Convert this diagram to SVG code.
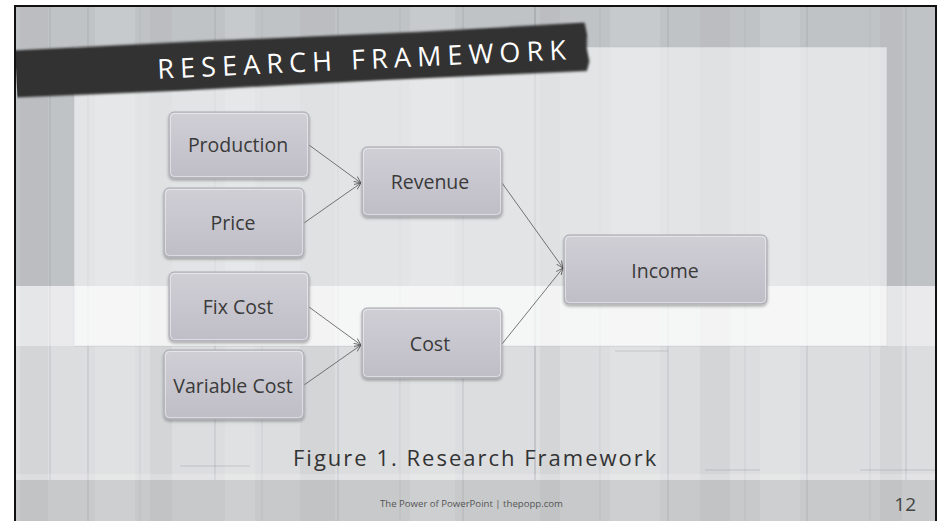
<svg xmlns="http://www.w3.org/2000/svg" width="943" height="521" viewBox="0 0 943 521">
<style>
.node-text{font-family:"Open Sans","Noto Sans","DejaVu Sans",sans-serif;font-size:19.5px;fill:#3a3a3a;text-anchor:middle}
.plank{stroke:#6f7276;stroke-width:1;opacity:0.25}
.plank2{stroke:#8a8d90;stroke-width:1;opacity:0.18}
.streak{fill:#ffffff;opacity:0.12}
.streakd{fill:#7a7d80;opacity:0.08}
.conn{stroke:#555;stroke-width:0.8;fill:none;marker-end:url(#arrow)}
.box{fill:url(#nodeGrad);stroke:#aaa9b2;stroke-width:1;filter:url(#shadow)}
.hl{fill:none;stroke:#ffffff;stroke-opacity:0.45;stroke-width:1}
</style>
<defs>
<linearGradient id="nodeGrad" x1="0" y1="0" x2="0" y2="1">
<stop offset="0" stop-color="#d0cfd6"/>
<stop offset="1" stop-color="#bfbec7"/>
</linearGradient>
<filter id="shadow" x="-10%" y="-10%" width="120%" height="130%">
<feDropShadow dx="0" dy="2" stdDeviation="1.4" flood-color="#000" flood-opacity="0.3"/>
</filter>
<filter id="soft" x="-5%" y="-20%" width="110%" height="140%">
<feGaussianBlur stdDeviation="0.8"/>
</filter>
<marker id="arrow" viewBox="0 0 8 8" refX="8" refY="4" markerWidth="7" markerHeight="7" markerUnits="userSpaceOnUse" orient="auto">
<path d="M0,0.5 L8,4 L0,7.5" fill="none" stroke="#555" stroke-width="0.9"/>
</marker>
<clipPath id="slide"><rect x="16" y="7" width="919" height="514"/></clipPath>
</defs>

<rect x="0" y="0" width="943" height="521" fill="#ffffff"/>

<g id="background" clip-path="url(#slide)">
<rect x="16" y="7" width="919" height="514" fill="#c0c3c6"/>
<rect x="16" y="286" width="919" height="194" fill="#dcdddf"/>
<rect x="16" y="480" width="919" height="41" fill="#c7c9cb"/>
<g>
<rect class="streakd" x="20" y="7" width="28" height="514"/>
<rect class="streak" x="95" y="7" width="40" height="514"/>
<rect class="streakd" x="150" y="7" width="22" height="514"/>
<rect class="streak" x="225" y="7" width="30" height="514"/>
<rect class="streakd" x="300" y="7" width="35" height="514"/>
<rect class="streak" x="410" y="7" width="45" height="514"/>
<rect class="streakd" x="540" y="7" width="20" height="514"/>
<rect class="streak" x="610" y="7" width="50" height="514"/>
<rect class="streakd" x="700" y="7" width="30" height="514"/>
<rect class="streak" x="760" y="7" width="40" height="514"/>
<rect class="streakd" x="880" y="7" width="22" height="514"/>
<line class="plank" x1="50" y1="7" x2="50" y2="480"/>
<line class="plank" x1="88" y1="7" x2="88" y2="521"/>
<line class="plank2" x1="140" y1="7" x2="140" y2="521"/>
<line class="plank" x1="215" y1="7" x2="215" y2="480"/>
<line class="plank2" x1="262" y1="7" x2="262" y2="521"/>
<line class="plank" x1="338" y1="7" x2="338" y2="521"/>
<line class="plank2" x1="400" y1="7" x2="400" y2="521"/>
<line class="plank" x1="463" y1="7" x2="463" y2="521"/>
<line class="plank" x1="535" y1="7" x2="535" y2="480" style="opacity:0.45"/>
<line class="plank2" x1="600" y1="7" x2="600" y2="521"/>
<line class="plank" x1="668" y1="7" x2="668" y2="521"/>
<line class="plank2" x1="745" y1="7" x2="745" y2="521"/>
<line class="plank" x1="807" y1="7" x2="807" y2="521"/>
<line class="plank2" x1="870" y1="7" x2="870" y2="521"/>
<line class="plank" x1="906" y1="7" x2="906" y2="480"/>
<line class="plank" x1="615" y1="351" x2="668" y2="351"/>
<line class="plank" x1="705" y1="470" x2="760" y2="470"/>
<line class="plank" x1="860" y1="470" x2="935" y2="470"/>
<line class="plank" x1="180" y1="466" x2="250" y2="466"/>
</g>
<rect x="74" y="47" width="813" height="299" fill="#ffffff" fill-opacity="0.55" stroke="#b9bcc0" stroke-opacity="0.5"/>
<rect x="16" y="286" width="919" height="60" fill="#ffffff" fill-opacity="0.4"/>
<rect x="16" y="474" width="919" height="6" fill="#ffffff" fill-opacity="0.2"/>
</g>

<g id="title">
<g transform="rotate(-2.7 300 60)" clip-path="url(#slide)">
<path d="M0,37 L200,36.5 L420,37.5 L586,36 L588,48 L587,62 L589,75 L586,84.5 L380,84 L180,85 L0,84 Z" fill="#303030" filter="url(#soft)"/>
<text x="157" y="72" font-family="'Open Sans','Noto Sans','DejaVu Sans',sans-serif" font-size="27" letter-spacing="6.1" fill="#ffffff">RESEARCH FRAMEWORK</text>
</g>
</g>

<g id="connectors">
<line class="conn" x1="309" y1="145" x2="361" y2="183"/>
<line class="conn" x1="304" y1="223" x2="361" y2="183"/>
<line class="conn" x1="502" y1="183" x2="563" y2="268"/>
<line class="conn" x1="502" y1="344" x2="563" y2="268"/>
<line class="conn" x1="309" y1="307" x2="361" y2="345"/>
<line class="conn" x1="304" y1="385" x2="361" y2="345"/>
</g>

<g id="node-production">
<rect class="box" x="169" y="112" width="140" height="66" rx="5"/>
<rect class="hl" x="170.5" y="113.5" width="137" height="63" rx="4"/>
<text class="node-text" x="238" y="152">Production</text>
</g>
<g id="node-price">
<rect class="box" x="164" y="188" width="140" height="69" rx="5"/>
<rect class="hl" x="165.5" y="189.5" width="137" height="66" rx="4"/>
<text class="node-text" x="233" y="230">Price</text>
</g>
<g id="node-fixcost">
<rect class="box" x="169" y="272" width="140" height="69" rx="5"/>
<rect class="hl" x="170.5" y="273.5" width="137" height="66" rx="4"/>
<text class="node-text" x="238" y="314">Fix Cost</text>
</g>
<g id="node-variablecost">
<rect class="box" x="164" y="350" width="140" height="69" rx="5"/>
<rect class="hl" x="165.5" y="351.5" width="137" height="66" rx="4"/>
<text class="node-text" x="233" y="393">Variable Cost</text>
</g>
<g id="node-revenue">
<rect class="box" x="362" y="147" width="140" height="69" rx="5"/>
<rect class="hl" x="363.5" y="148.5" width="137" height="66" rx="4"/>
<text class="node-text" x="430" y="189">Revenue</text>
</g>
<g id="node-cost">
<rect class="box" x="362" y="308" width="140" height="70" rx="5"/>
<rect class="hl" x="363.5" y="309.5" width="137" height="67" rx="4"/>
<text class="node-text" x="430" y="351">Cost</text>
</g>
<g id="node-income">
<rect class="box" x="564" y="235" width="203" height="69" rx="5"/>
<rect class="hl" x="565.5" y="236.5" width="200" height="66" rx="4"/>
<text class="node-text" x="665" y="278">Income</text>
</g>

<g id="caption">
<text x="293" y="466" font-family="'Open Sans','Noto Sans','DejaVu Sans',sans-serif" font-size="22" letter-spacing="2" fill="#333333">Figure 1. Research Framework</text>
</g>

<g id="footer">
<text x="380" y="507" font-family="'Open Sans','Noto Sans','DejaVu Sans',sans-serif" font-size="9.6" fill="#555555">The Power of PowerPoint | thepopp.com</text>
<text x="916" y="511" text-anchor="end" font-family="'Open Sans','Noto Sans','DejaVu Sans',sans-serif" font-size="19" fill="#444444">12</text>
</g>

<g id="frame">
<line x1="15" y1="6" x2="936" y2="6" stroke="#111" stroke-width="2"/>
<line x1="15" y1="5" x2="15" y2="521" stroke="#111" stroke-width="2"/>
<line x1="936" y1="5" x2="936" y2="521" stroke="#111" stroke-width="2"/>
</g>
</svg>
